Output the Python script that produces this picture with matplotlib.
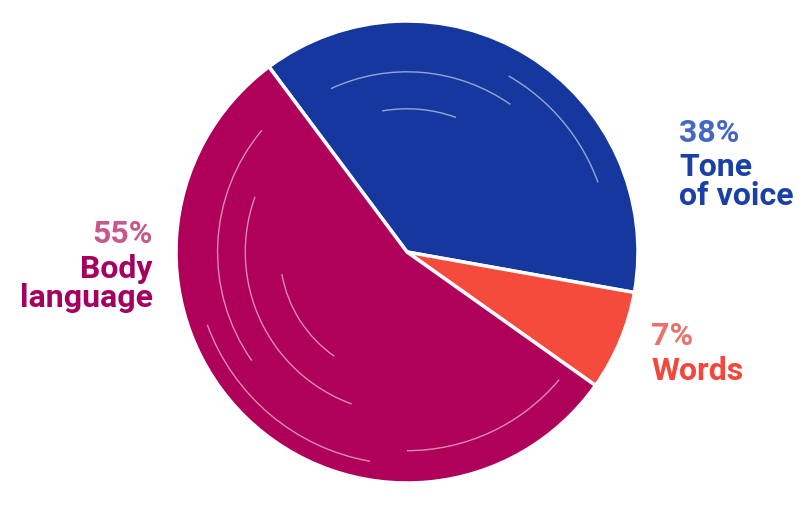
import matplotlib.pyplot as plt
from matplotlib.patches import Arc

# shares of communication
labels = ["Tone\nof voice", "Words", "Body\nlanguage"]
pct_labels = ["38%", "7%", "55%"]
pcts = [38, 7, 55]
colors = ["#16389E", "#F44B3C", "#AF005A"]

plt.rcParams['font.family'] = ['Roboto', 'DejaVu Sans']

fig = plt.figure(figsize=(8.03, 5.13), dpi=100)
ax = fig.add_axes([0, 0, 1, 1])

cx, cy, r = 407, 513 - 252, 231
ax.pie(pcts, colors=colors, startangle=126.7, counterclock=False,
       center=(cx, cy), radius=r,
       wedgeprops=dict(edgecolor="white", linewidth=2.5))

# brush-like streaks (decoration)
streaks = [(0.78, 55, 115), (0.62, 70, 100), (0.88, 20, 60),
           (0.82, 140, 215), (0.70, 160, 250), (0.92, 200, 260),
           (0.55, 190, 235), (0.86, 270, 320)]
for fr, a1, a2 in streaks:
    ax.add_patch(Arc((cx, cy), 2 * r * fr, 2 * r * fr, theta1=a1, theta2=a2,
                     color="white", lw=1, alpha=0.55))

ax.set_xlim(0, 803)
ax.set_ylim(0, 513)
ax.set_aspect("equal")
ax.axis("off")

fs = 23
lab_col = ["#1A3FA6", "#F2473A", "#A6005E"]
pct_col = ["#4468C2", "#E9726A", "#C9578C"]
# x, percent baseline, name top, alignment (pixels from top-left)
spots = [(679, 142, 152, "left"), (651, 345, 356, "left"), (153, 243, 254, "right")]

for i in range(3):
    x, yb, yt, ha = spots[i]
    ax.text(x, 513 - yb, pct_labels[i], color=pct_col[i], fontsize=fs,
            fontweight="bold", ha=ha, va="baseline")
    ax.text(x, 513 - yt, labels[i], color=lab_col[i], fontsize=fs,
            fontweight="bold", ha=ha, va="top", multialignment=ha, linespacing=0.95)

fig.savefig("out.png", dpi=100)
